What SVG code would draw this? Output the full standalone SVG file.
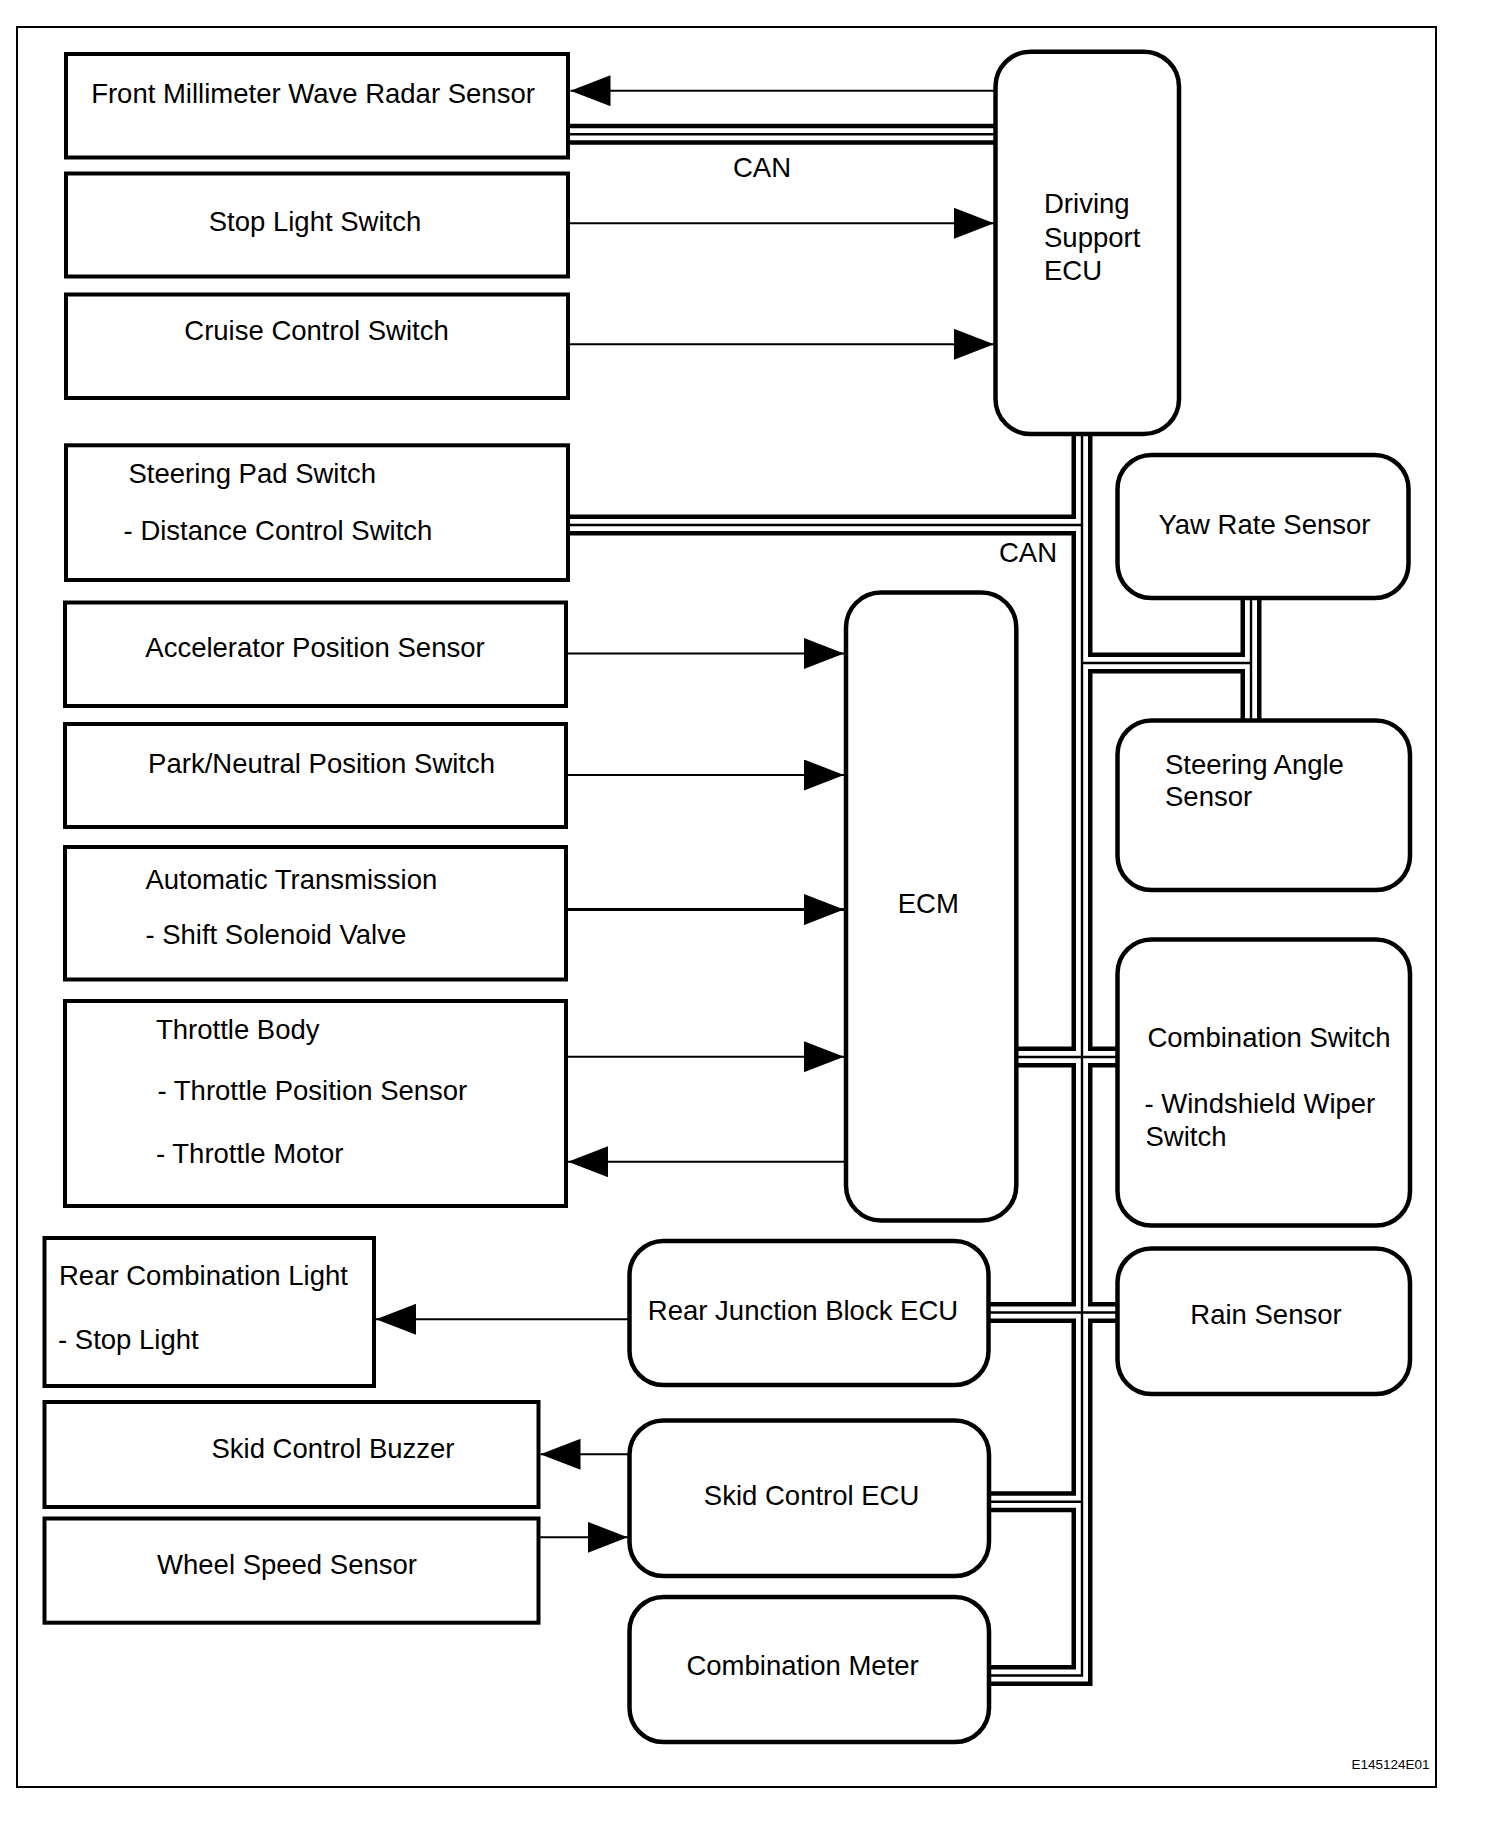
<svg xmlns="http://www.w3.org/2000/svg" width="1504" height="1842" viewBox="0 0 1504 1842">
<style>
text{font-family:"Liberation Sans",Arial,sans-serif;font-size:27.5px;fill:#000}
.m{text-anchor:middle}
.box{fill:#fff;stroke:#000;stroke-width:4}
.rbox{fill:#fff;stroke:#000;stroke-width:4.5}
.b1{fill:none;stroke:#000;stroke-width:21;stroke-linejoin:miter}
.b2{fill:none;stroke:#fff;stroke-width:12;stroke-linejoin:miter}
.b3{fill:none;stroke:#000;stroke-width:2.4;stroke-linejoin:miter}
.ar{fill:none;stroke:#000;stroke-width:2;marker-end:url(#ah)}
</style>
<defs>
<marker id="ah" markerUnits="userSpaceOnUse" markerWidth="40" markerHeight="31" refX="40" refY="15.5" orient="auto">
<path d="M0,0 L40,15.5 L0,31 Z" fill="#000"/>
</marker>
<path id="bus" d="M568,134.2H995.5 M1082,434V1675.5H989 M568,525H1082 M1082,663H1251 M1251,598V720.5 M1016,1057H1117.5 M988.5,1312.5H1117.5 M989,1501.8H1082"/>
</defs>
<rect x="17" y="27" width="1419" height="1760" fill="none" stroke="#000" stroke-width="2"/>
<g id="connectors">
<use href="#bus" class="b1"/>
<use href="#bus" class="b2"/>
<use href="#bus" class="b3"/>
<line class="ar" x1="995" y1="90.7" x2="570.5" y2="90.7"/>
<line class="ar" x1="568" y1="223.3" x2="994" y2="223.3"/>
<line class="ar" x1="568" y1="344.3" x2="994" y2="344.3"/>
<line class="ar" x1="566" y1="653.5" x2="844" y2="653.5"/>
<line class="ar" x1="566" y1="775" x2="844" y2="775"/>
<line class="ar" x1="566" y1="909.6" x2="844" y2="909.6" style="stroke-width:3"/>
<line class="ar" x1="566" y1="1056.7" x2="844" y2="1056.7"/>
<line class="ar" x1="846" y1="1161.7" x2="568" y2="1161.7"/>
<line class="ar" x1="629" y1="1319.3" x2="376" y2="1319.3"/>
<line class="ar" x1="629" y1="1454.3" x2="540.5" y2="1454.3"/>
<line class="ar" x1="538.5" y1="1537.3" x2="627.7" y2="1537.3"/>
</g>
<g id="front-radar"><rect class="box" x="66" y="54" width="502" height="103.5"/><text class="m" x="313" y="103">Front Millimeter Wave Radar Sensor</text></g>
<g id="stop-light-switch"><rect class="box" x="66" y="173.5" width="502" height="103"/><text class="m" x="315" y="231">Stop Light Switch</text></g>
<g id="cruise-control-switch"><rect class="box" x="66" y="294.5" width="502" height="103.5"/><text class="m" x="316.5" y="340">Cruise Control Switch</text></g>
<g id="steering-pad-switch"><rect class="box" x="66" y="445.3" width="502" height="134.7"/><text x="128.5" y="483">Steering Pad Switch</text><text x="123.6" y="540">- Distance Control Switch</text></g>
<g id="accelerator-position-sensor"><rect class="box" x="65" y="602.5" width="501" height="103.5"/><text class="m" x="315" y="657">Accelerator Position Sensor</text></g>
<g id="park-neutral-position-switch"><rect class="box" x="65" y="724" width="501" height="103"/><text class="m" x="321.6" y="772.5">Park/Neutral Position Switch</text></g>
<g id="automatic-transmission"><rect class="box" x="65" y="847" width="501" height="132.5"/><text x="145.4" y="889">Automatic Transmission</text><text x="145.4" y="943.6">- Shift Solenoid Valve</text></g>
<g id="throttle-body"><rect class="box" x="65" y="1001" width="501" height="205"/><text x="156" y="1039.3">Throttle Body</text><text x="157.5" y="1100">- Throttle Position Sensor</text><text x="156" y="1163.3">- Throttle Motor</text></g>
<g id="rear-combination-light"><rect class="box" x="44.5" y="1238" width="329.5" height="148"/><text x="59" y="1285">Rear Combination Light</text><text x="58" y="1349.3">- Stop Light</text></g>
<g id="skid-control-buzzer"><rect class="box" x="44.5" y="1402" width="494" height="105"/><text class="m" x="333" y="1458.3">Skid Control Buzzer</text></g>
<g id="wheel-speed-sensor"><rect class="box" x="44.5" y="1518.5" width="494" height="104.2"/><text class="m" x="287" y="1574">Wheel Speed Sensor</text></g>
<g id="driving-support-ecu"><rect class="rbox" x="995.5" y="51.7" width="183.5" height="382.3" rx="35" ry="35"/><text x="1044" y="213.3">Driving</text><text x="1044" y="246.7">Support</text><text x="1044" y="280">ECU</text></g>
<g id="ecm"><rect class="rbox" x="846" y="592.5" width="170.3" height="628" rx="35" ry="35"/><text class="m" x="928.3" y="913">ECM</text></g>
<g id="yaw-rate-sensor"><rect class="rbox" x="1117.5" y="455" width="291" height="143" rx="34" ry="34"/><text class="m" x="1264.5" y="533.6">Yaw Rate Sensor</text></g>
<g id="steering-angle-sensor"><rect class="rbox" x="1117.5" y="720.5" width="292.5" height="169.5" rx="34" ry="34"/><text x="1165" y="774">Steering Angle</text><text x="1165" y="806">Sensor</text></g>
<g id="combination-switch"><rect class="rbox" x="1117.5" y="939.5" width="292.5" height="286" rx="34" ry="34"/><text x="1147.4" y="1046.7">Combination Switch</text><text x="1144.5" y="1113.3">- Windshield Wiper</text><text x="1145.5" y="1145.7">Switch</text></g>
<g id="rain-sensor"><rect class="rbox" x="1117.5" y="1248.5" width="292.5" height="145.5" rx="34" ry="34"/><text class="m" x="1266" y="1324">Rain Sensor</text></g>
<g id="rear-junction-block-ecu"><rect class="rbox" x="629.5" y="1241" width="359" height="144" rx="34" ry="34"/><text class="m" x="803" y="1320">Rear Junction Block ECU</text></g>
<g id="skid-control-ecu"><rect class="rbox" x="629.5" y="1420.5" width="359.5" height="155.5" rx="34" ry="34"/><text class="m" x="811.6" y="1505">Skid Control ECU</text></g>
<g id="combination-meter"><rect class="rbox" x="629.5" y="1597" width="359.5" height="145" rx="34" ry="34"/><text class="m" x="802.6" y="1675">Combination Meter</text></g>
<text class="m" x="762" y="176.7">CAN</text>
<text class="m" x="1028" y="562">CAN</text>
<text x="1351.6" y="1769.3" style="font-size:12px" textLength="78" lengthAdjust="spacingAndGlyphs">E145124E01</text>
</svg>
